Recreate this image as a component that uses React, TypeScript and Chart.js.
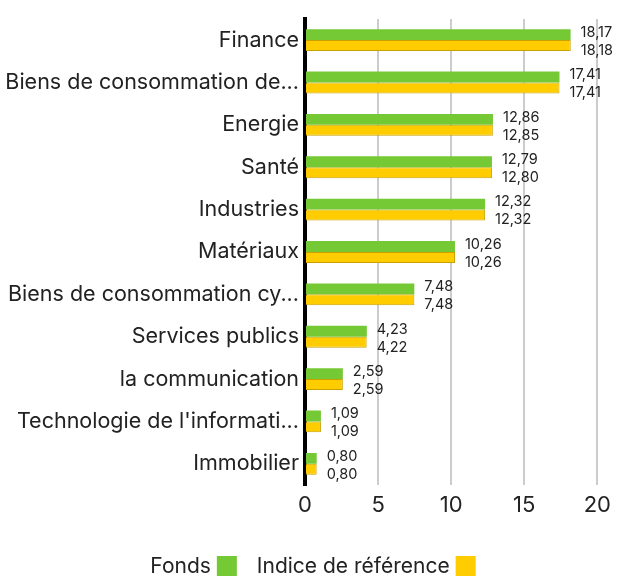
import React, { useEffect, useRef } from "react";
import { Chart, registerables } from "chart.js";

Chart.register(...registerables);

const categories = [
  "Finance",
  "Biens de consommation de...",
  "Energie",
  "Santé",
  "Industries",
  "Matériaux",
  "Biens de consommation cy...",
  "Services publics",
  "la communication",
  "Technologie de l'informati...",
  "Immobilier",
];
const fondsValues = [18.17, 17.41, 12.86, 12.79, 12.32, 10.26, 7.48, 4.23, 2.59, 1.09, 0.8];
const indiceValues = [18.18, 17.41, 12.85, 12.8, 12.32, 10.26, 7.48, 4.22, 2.59, 1.09, 0.8];
const seriesNames = ["Fonds", "Indice de référence"];
const seriesColors = ["#74c935", "#ffcc00"];
const xTicks = [0, 5, 10, 15, 20];

const FONT = "Inter, 'Open Sans', sans-serif";

const valueLabels = {
  id: "valueLabels",
  afterDatasetsDraw(chart: any) {
    const ctx = chart.ctx;
    ctx.save();
    ctx.font = `14.5px ${FONT}`;
    ctx.fillStyle = "#222";
    ctx.textBaseline = "middle";
    ctx.textAlign = "left";
    chart.data.datasets.forEach((ds: any, di: number) => {
      const meta = chart.getDatasetMeta(di);
      meta.data.forEach((bar: any, i: number) => {
        const v = ds.data[i] as number;
        const txt = v.toFixed(2).replace(".", ",");
        const dy = di === 0 ? -2 : 5;
        ctx.fillText(txt, bar.x + 10, bar.y + dy);
      });
    });
    ctx.restore();
  },
};

const customLegend = {
  id: "customLegend",
  afterDraw(chart: any) {
    const ctx = chart.ctx;
    ctx.save();
    ctx.font = `21px ${FONT}`;
    ctx.textBaseline = "middle";
    ctx.textAlign = "left";
    const box = 20;
    const gapTextBox = 6;
    const gapItems = 20;
    const items = chart.data.datasets.map((ds: any) => ({
      label: ds.label as string,
      color: ds.backgroundColor as string,
      w: ctx.measureText(ds.label).width,
    }));
    const total =
      items.reduce((s: number, it: any) => s + it.w + gapTextBox + box, 0) +
      gapItems * (items.length - 1);
    let x = (chart.width - total) / 2 + 4;
    const cy = 566;
    items.forEach((it: any) => {
      ctx.fillStyle = "#222";
      ctx.fillText(it.label, x, cy + 1);
      x += it.w + gapTextBox;
      ctx.fillStyle = it.color;
      ctx.fillRect(x, cy - box / 2, box, box);
      x += box + gapItems;
    });
    ctx.restore();
  },
};

export default function App() {
  const ref = useRef<HTMLCanvasElement>(null);
  useEffect(() => {
    if (!ref.current) return;
    const chart = new Chart(ref.current, {
      type: "bar",
      data: {
        labels: categories,
        datasets: [
          {
            label: seriesNames[0],
            data: fondsValues,
            backgroundColor: seriesColors[0],
            borderWidth: 0,
            categoryPercentage: 0.516,
            barPercentage: 1,
          },
          {
            label: seriesNames[1],
            data: indiceValues,
            backgroundColor: seriesColors[1],
            borderColor: "#c9a200",
            borderWidth: 1,
            categoryPercentage: 0.516,
            barPercentage: 1,
          },
        ],
      },
      options: {
        indexAxis: "y",
        animation: false,
        responsive: true,
        maintainAspectRatio: false,
        layout: { padding: { top: 16, right: 10, left: 0, bottom: 0 } },
        scales: {
          x: {
            min: 0,
            max: 20,
            afterBuildTicks: (axis: any) => {
              axis.ticks = xTicks.map((v) => ({ value: v }));
            },
            afterFit: (axis: any) => {
              axis.height = 93;
            },
            grid: {
              color: "#cccccc",
              lineWidth: 2,
              drawTicks: false,
            },
            border: { display: false },
            ticks: {
              color: "#222",
              font: { family: FONT, size: 22 },
              padding: 7,
            },
          },
          y: {
            afterFit: (axis: any) => {
              axis.width = 305;
            },
            grid: { display: false, drawTicks: false },
            border: { display: true, color: "#000", width: 4 },
            ticks: {
              color: "#222",
              font: { family: FONT, size: 21.5 },
              padding: 6,
            },
          },
        },
        plugins: {
          legend: { display: false },
          tooltip: { enabled: false },
        },
      },
      plugins: [valueLabels, customLegend],
    });
    return () => chart.destroy();
  }, []);
  return (
    <div style={{ width: 618, height: 578, position: "absolute", left: 0, top: 0 }}>
      <canvas ref={ref} />
    </div>
  );
}
